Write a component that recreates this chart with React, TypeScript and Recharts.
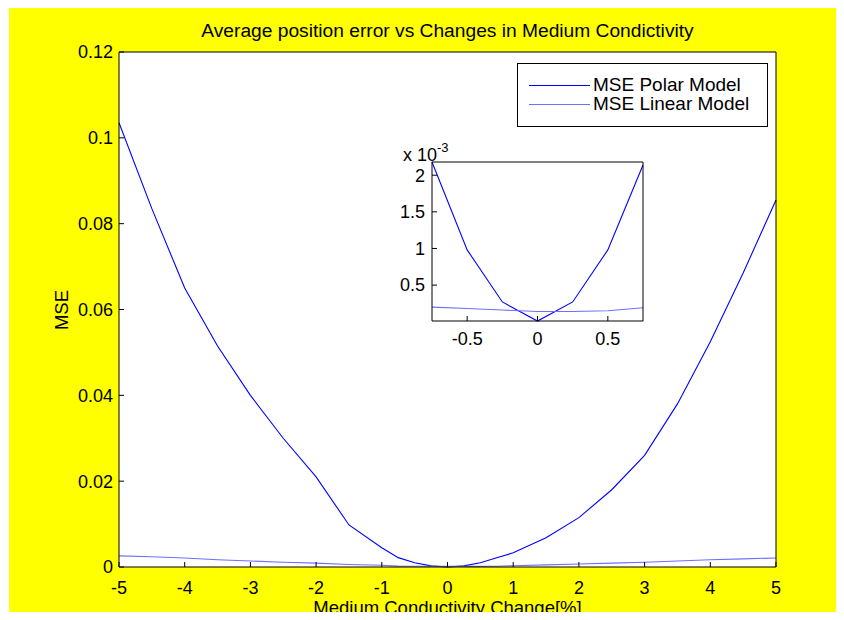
import React from 'react';
import { LineChart, Line, XAxis, YAxis, CartesianGrid } from 'recharts';

// Conductivity change in percent, and the mean squared position error of each model
const conductivityChange = [
  -5, -4.5, -4, -3.5, -3, -2.5, -2, -1.5, -1, -0.75, -0.5, -0.25, 0,
  0.25, 0.5, 0.75, 1, 1.5, 2, 2.5, 3, 3.5, 4, 4.5, 5,
];
const msePolar = [
  0.1035, 0.0835, 0.065, 0.0515, 0.040, 0.030, 0.021, 0.0098, 0.0045, 0.00218, 0.00098, 0.00027, 0.00001,
  0.00027, 0.00098, 0.00214, 0.0033, 0.0068, 0.0115, 0.018, 0.026, 0.038, 0.0525, 0.0685, 0.0855,
];
const mseLinear = [
  0.0026, 0.0024, 0.0021, 0.0017, 0.0014, 0.0011, 0.0009, 0.0006, 0.0004, 0.0002, 0.00018, 0.00016, 0.00014,
  0.00014, 0.00015, 0.00019, 0.0003, 0.0005, 0.0007, 0.0009, 0.0011, 0.0014, 0.0017, 0.0019, 0.0021,
];

const mainXTicks = [-5, -4, -3, -2, -1, 0, 1, 2, 3, 4, 5];
const mainYTicks = [0, 0.02, 0.04, 0.06, 0.08, 0.1, 0.12];
const insetXTicks = [-0.5, 0, 0.5];
const insetYTicks = [0.0005, 0.001, 0.0015, 0.002];
const insetYTickLabels = ['0.5', '1', '1.5', '2'];
const insetRange = [-0.75, 0.75];

const seriesNames = ['MSE Polar Model', 'MSE Linear Model'];
const seriesColors = ['#0000ff', '#6f6fff'];
const titleText = 'Average position error vs Changes in Medium Condictivity';
const xLabelText = 'Medium Conductivity Change[%]';
const yLabelText = 'MSE';

const rows = conductivityChange.map((x, i) => ({ x, polar: msePolar[i], linear: mseLinear[i] }));
const insetRows = rows.filter((r) => r.x >= insetRange[0] && r.x <= insetRange[1]);
const insetYMin = Math.min(...insetRows.map((r) => r.polar));
const insetYMax = Math.max(...insetRows.map((r) => r.polar));

const FONT = "'Liberation Sans', Arial, Helvetica, sans-serif";
const tickStyle = { fill: '#000', fontSize: 18, fontFamily: FONT };
const axisStroke = { stroke: '#000', strokeWidth: 1 };

function formatInsetTick(v: number) {
  const idx = insetYTicks.indexOf(v);
  return idx >= 0 ? insetYTickLabels[idx] : String(v * 1000);
}

export default function App() {
  return (
    <div style={{ position: 'relative', width: 844, height: 620, margin: -8, background: '#fff', fontFamily: FONT, overflow: 'hidden' }}>
      <div style={{ position: 'absolute', left: 9, top: 4, width: 835, height: 616, background: '#ffff00' }} />

      {/* Title */}
      <div style={{ position: 'absolute', left: 119, width: 657, top: 20, textAlign: 'center', fontSize: 19.2, lineHeight: '22px', color: '#000', whiteSpace: 'nowrap' }}>
        {titleText}
      </div>

      {/* Main chart */}
      <div style={{ position: 'absolute', left: 0, top: 0 }}>
        <LineChart width={844} height={620} data={rows} margin={{ top: 51, right: 67, bottom: 13, left: 59 }}>
          <CartesianGrid fill="#ffffff" stroke="none" horizontal={false} vertical={false} />
          <XAxis
            dataKey="x"
            type="number"
            domain={[-5, 5]}
            ticks={mainXTicks}
            height={40}
            tickSize={-5}
            tickMargin={19}
            axisLine={axisStroke}
            tickLine={axisStroke}
            tick={tickStyle}
            interval={0}
          />
          <XAxis
            xAxisId="top"
            orientation="top"
            dataKey="x"
            type="number"
            domain={[-5, 5]}
            ticks={mainXTicks}
            height={1}
            tickSize={-5}
            axisLine={axisStroke}
            tickLine={axisStroke}
            tick={false}
            interval={0}
          />
          <YAxis
            type="number"
            domain={[0, 0.12]}
            ticks={mainYTicks}
            width={60}
            tickSize={-5}
            tickMargin={11}
            axisLine={axisStroke}
            tickLine={axisStroke}
            tick={tickStyle}
            interval={0}
          />
          <YAxis
            yAxisId="right"
            orientation="right"
            type="number"
            domain={[0, 0.12]}
            ticks={mainYTicks}
            width={1}
            tickSize={-5}
            axisLine={axisStroke}
            tickLine={axisStroke}
            tick={false}
            interval={0}
          />
          <Line dataKey="polar" stroke={seriesColors[0]} strokeWidth={1.1} dot={false} isAnimationActive={false} />
          <Line dataKey="linear" stroke={seriesColors[1]} strokeWidth={1.1} dot={false} isAnimationActive={false} />
        </LineChart>
      </div>

      {/* Axis labels */}
      <div style={{ position: 'absolute', left: 119, width: 657, top: 597, textAlign: 'center', fontSize: 18.5, lineHeight: '21px', color: '#000', whiteSpace: 'nowrap' }}>
        {xLabelText}
      </div>
      <div style={{ position: 'absolute', left: 62 - 40, top: 310 - 11, width: 80, textAlign: 'center', fontSize: 18.5, lineHeight: '22px', transform: 'rotate(-90deg)', color: '#000' }}>
        {yLabelText}
      </div>

      {/* Legend */}
      <div style={{ position: 'absolute', left: 517, top: 63, width: 249, height: 62, background: '#fff', border: '1px solid #000' }}>
        {seriesNames.map((name, i) => (
          <div key={name} style={{ position: 'absolute', left: 11, top: 10 + i * 19, height: 22, display: 'flex', alignItems: 'center' }}>
            <svg width={61} height={3} style={{ display: 'block' }}>
              <line x1={0} y1={1.5} x2={61} y2={1.5} stroke={seriesColors[i]} strokeWidth={1.1} />
            </svg>
            <span style={{ marginLeft: 3, fontSize: 19, lineHeight: '22px', color: '#000' }}>{name}</span>
          </div>
        ))}
      </div>

      {/* Inset zoom of the central region */}
      <div style={{ position: 'absolute', left: 380, top: 140 }}>
        <LineChart width={280} height={220} data={insetRows} margin={{ top: 21, right: 16, bottom: 9, left: 12 }}>
          <CartesianGrid fill="#ffffff" stroke="none" horizontal={false} vertical={false} />
          <XAxis
            dataKey="x"
            type="number"
            domain={insetRange}
            ticks={insetXTicks}
            height={30}
            tickSize={-5}
            tickMargin={16}
            axisLine={axisStroke}
            tickLine={axisStroke}
            tick={tickStyle}
            interval={0}
          />
          <XAxis
            xAxisId="top"
            orientation="top"
            dataKey="x"
            type="number"
            domain={insetRange}
            ticks={insetXTicks}
            height={1}
            tickSize={-5}
            axisLine={axisStroke}
            tickLine={axisStroke}
            tick={false}
            interval={0}
          />
          <YAxis
            type="number"
            domain={[insetYMin, insetYMax]}
            ticks={insetYTicks}
            width={40}
            tickSize={-5}
            tickMargin={12}
            axisLine={axisStroke}
            tickLine={axisStroke}
            tick={tickStyle}
            tickFormatter={formatInsetTick}
            interval={0}
          />
          <YAxis
            yAxisId="right"
            orientation="right"
            type="number"
            domain={[insetYMin, insetYMax]}
            ticks={insetYTicks}
            width={1}
            tickSize={-5}
            axisLine={axisStroke}
            tickLine={axisStroke}
            tick={false}
            interval={0}
          />
          <Line dataKey="polar" stroke={seriesColors[0]} strokeWidth={1.1} dot={false} isAnimationActive={false} />
          <Line dataKey="linear" stroke={seriesColors[1]} strokeWidth={1.1} dot={false} isAnimationActive={false} />
        </LineChart>
      </div>

      {/* Inset exponent */}
      <div style={{ position: 'absolute', left: 403, top: 139, fontSize: 18, lineHeight: '22px', color: '#000', whiteSpace: 'nowrap' }}>
        x 10<sup style={{ fontSize: 13, position: 'relative', top: -2 }}>-3</sup>
      </div>
    </div>
  );
}
